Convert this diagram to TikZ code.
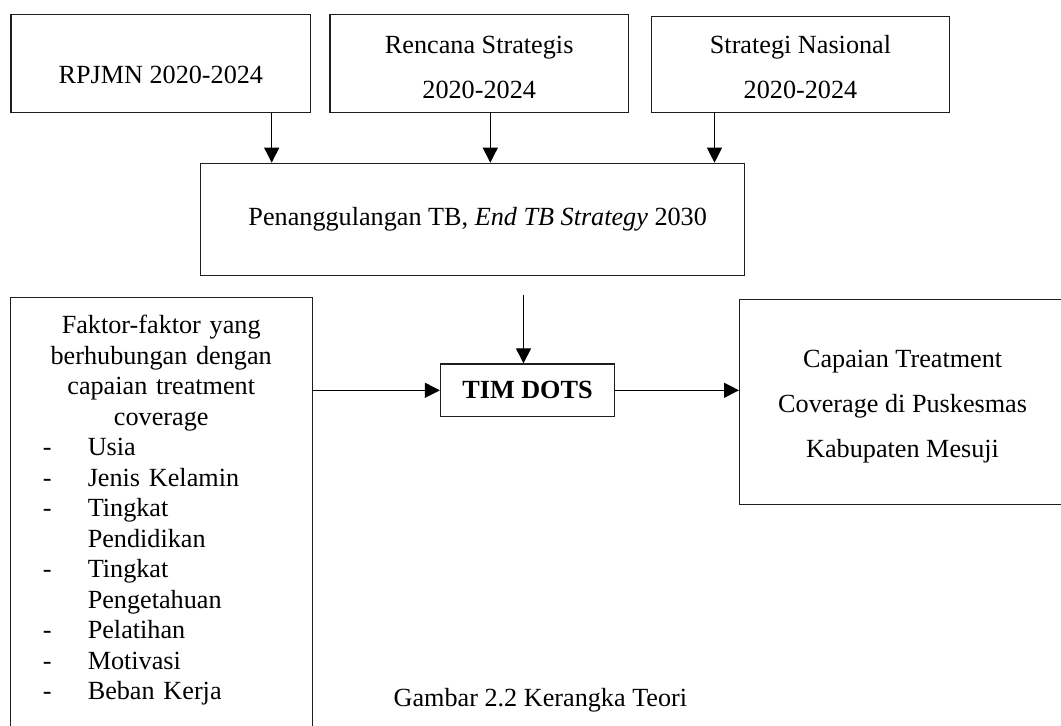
\documentclass[tikz,border=0pt]{standalone}
\usepackage{fontspec}
\setmainfont{Liberation Serif}
\usepackage{xcolor}
\usepackage{tikz}
\usetikzlibrary{arrows.meta, positioning}
\definecolor{garis}{RGB}{30, 30, 30}
\newcommand{\hurufteks}{\fontsize{13.1pt}{22.5pt}\selectfont}
\newcommand{\butir}[1]{\par\hspace*{16.4pt}\makebox[22.45pt][l]{-}#1}
\newcommand{\lanjut}[1]{\par\hspace*{38.85pt}#1}

\begin{document}
\begin{tikzpicture}[x=0.5pt, y=-0.5pt,
    kotak/.style={draw=garis, line width=0.6pt, inner sep=0pt, font=\hurufteks},
    panah/.style={-{Triangle[length=7.5pt, width=7.5pt]}, line width=0.55pt}]
  \useasboundingbox (0,0) rectangle (1061,726);
  \clip (0,0) rectangle (1061,726);

  % baris atas
  \node[kotak, minimum width=149.85pt, text height=34.3pt, text depth=14.7pt]
    (rpjmn) at (160.85,63.7) {RPJMN 2020-2024};
  \node[kotak, align=center, minimum width=149.3pt, minimum height=49pt,
        right=9pt of rpjmn] (renstra) {\rule{0pt}{12pt}Rencana Strategis\\2020-2024};
  \node[kotak, align=center, minimum width=149.1pt, minimum height=47.9pt,
        anchor=south west] (stranas) at ([xshift=10.85pt]renstra.south east)
    {\rule{0pt}{11pt}Strategi Nasional\\2020-2024};
  \node[kotak, minimum width=272pt, minimum height=56pt]
    (penang) at (472.7,219.3) {\hspace*{5pt}Penanggulangan TB, \textit{End TB Strategy} 2030};

  \draw[panah] ([xshift=35.8pt]penang.north west |- rpjmn.south) -- ([xshift=35.8pt]penang.north west);
  \draw[panah] ([xshift=145.1pt]penang.north west |- renstra.south) -- ([xshift=145.1pt]penang.north west);
  \draw[panah] ([xshift=257.2pt]penang.north west |- stranas.south) -- ([xshift=257.2pt]penang.north west);

  % baris bawah
  \node[kotak, anchor=north, text width=151.1pt, text height=18pt, text depth=200pt,
        font=\fontsize{13.1pt}{15.25pt}\selectfont] (faktor) at (161.2,297.3)
    {\parindent=0pt\centering Faktor-faktor yang\\berhubungan dengan\\capaian treatment\\coverage
     \par\raggedright
     \butir{Usia}
     \butir{Jenis Kelamin}
     \butir{Tingkat}
     \lanjut{Pendidikan}
     \butir{Tingkat}
     \lanjut{Pengetahuan}
     \butir{Pelatihan}
     \butir{Motivasi}
     \butir{Beban Kerja}\par};
  \node[kotak, font=\hurufteks\bfseries, minimum width=87pt, minimum height=26.35pt]
    (tim) at (527.5,390.3) {TIM DOTS};
  \node[kotak, align=center, anchor=north west, minimum width=163pt, minimum height=102.65pt]
    (capaian) at (739,299) {\rule{0pt}{13pt}Capaian Treatment\\Coverage di Puskesmas\\Kabupaten Mesuji};

  \draw[panah] ([xshift=-2pt, yshift=-9.35pt]tim.north |- penang.south) -- ([xshift=-2pt]tim.north);
  \draw[panah] (faktor.east |- tim.west) -- (tim.west);
  \draw[panah] (tim.east) -- (tim.east -| capaian.west);

  \node[font=\hurufteks, anchor=base] (judul) at (540.4,706.7) {Gambar 2.2 Kerangka Teori};
\end{tikzpicture}
\end{document}
